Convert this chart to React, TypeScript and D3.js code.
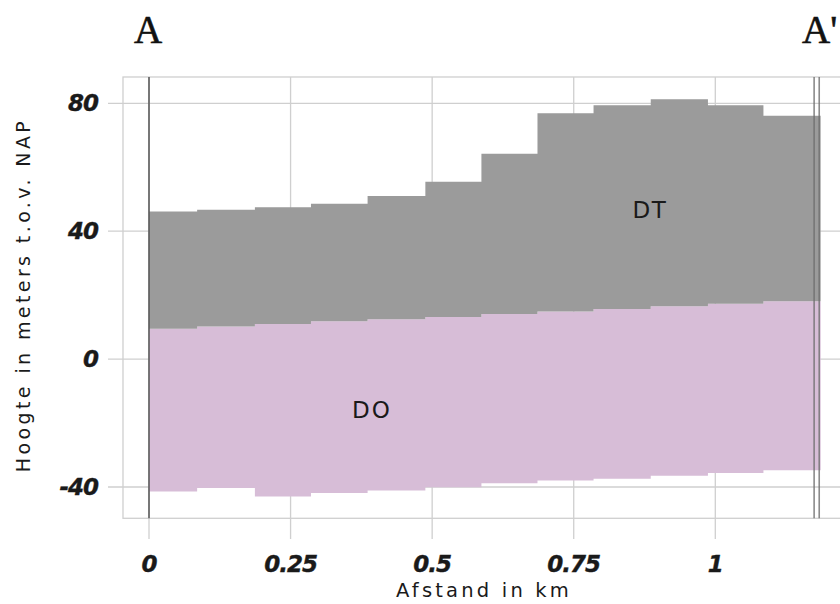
import * as d3 from "d3";

// cross-section A - A': layer boundaries per 100 m cell
const distKm = [0, 0.085, 0.187, 0.286, 0.386, 0.488, 0.587, 0.686, 0.785, 0.886, 0.987, 1.085, 1.186];
const dtTop = [46.2, 46.7, 47.5, 48.6, 51.0, 55.5, 64.2, 76.9, 79.4, 81.3, 79.4, 76.1];
const doTop = [9.5, 10.2, 11.0, 11.8, 12.5, 13.2, 14.1, 14.9, 15.7, 16.5, 17.3, 18.1];
const doBottom = [-41.4, -40.3, -43.0, -41.9, -41.1, -40.1, -38.8, -38.0, -37.4, -36.5, -35.6, -34.8];

const xTicks = [0, 0.25, 0.5, 0.75, 1];
const xTickLabels = ["0", "0.25", "0.5", "0.75", "1"];
const yTicks = [80, 40, 0, -40];
const yTickLabels = ["80", "40", "0", "-40"];
const endMarkers = [1.1745, 1.1835];

const W = 840;
const H = 604;

type Pt = { x: number; lo: number; hi: number };

export default function App() {
  const x = d3.scaleLinear().domain([0, 1]).range([149, 715.3]);
  const y = d3.scaleLinear().domain([-40, 80]).range([487, 103.3]);

  const frame = { left: 123, top: 77, bottom: 518.3 };

  // step points: the last value is held to the closing boundary
  const toPts = (lo: number[], hi: number[]): Pt[] =>
    distKm.map((d, i) => {
      const j = Math.min(i, lo.length - 1);
      return { x: d, lo: lo[j], hi: hi[j] };
    });

  const area = d3
    .area<Pt>()
    .x((d) => x(d.x))
    .y0((d) => y(d.lo))
    .y1((d) => y(d.hi))
    .curve(d3.curveStepAfter);

  const grid = "#cfcfcf";
  const sans = "'DejaVu Sans', Verdana, sans-serif";
  const serif = "'Liberation Serif', 'DejaVu Serif', serif";

  return (
    <div style={{ position: "absolute", left: 0, top: 0 }}>
      <svg width={W} height={H} style={{ display: "block", background: "#fff" }}>
        {/* frame */}
        <rect
          x={frame.left}
          y={frame.top}
          width={W - frame.left + 20}
          height={frame.bottom - frame.top}
          fill="none"
          stroke={grid}
          strokeWidth={1.3}
        />

        {/* horizontal grid + ticks */}
        {yTicks.map((t) => (
          <line key={t} x1={108} x2={W} y1={y(t)} y2={y(t)} stroke={grid} strokeWidth={1.3} />
        ))}

        {/* vertical grid + ticks */}
        {xTicks.map((t) => (
          <line key={t} x1={x(t)} x2={x(t)} y1={frame.top} y2={539} stroke={grid} strokeWidth={1.3} />
        ))}

        {/* layers */}
        <path d={area(toPts(doBottom, doTop)) ?? ""} fill="#d7bdd7" />
        <path d={area(toPts(doTop, dtTop)) ?? ""} fill="#9b9b9b" />

        {/* section start and end lines */}
        <line x1={x(0)} x2={x(0)} y1={frame.top} y2={frame.bottom} stroke="#555" strokeWidth={1.5} />
        {endMarkers.map((m) => (
          <line
            key={m}
            x1={x(m)}
            x2={x(m)}
            y1={frame.top}
            y2={frame.bottom}
            stroke="#6e6e6e"
            strokeOpacity={0.8}
            strokeWidth={1.6}
          />
        ))}

        {/* layer labels */}
        <text x={650} y={210} fontFamily={sans} fontSize={23} letterSpacing={1.5} textAnchor="middle" dominantBaseline="central" fill="#1a1a1a">
          DT
        </text>
        <text x={372} y={410} fontFamily={sans} fontSize={23} letterSpacing={2} textAnchor="middle" dominantBaseline="central" fill="#1a1a1a">
          DO
        </text>

        {/* y tick labels */}
        {yTicks.map((t, i) => (
          <text
            key={t}
            x={98}
            y={y(t)}
            textAnchor="end"
            dominantBaseline="central"
            fontFamily={sans}
            fontWeight="bold"
            fontStyle="italic"
            fontSize={23}
            letterSpacing={-1}
            fill="#1a1a1a"
            stroke="#1a1a1a"
            strokeWidth={0.4}
          >
            {yTickLabels[i]}
          </text>
        ))}

        {/* x tick labels */}
        {xTicks.map((t, i) => (
          <text
            key={t}
            x={x(t)}
            y={563.5}
            textAnchor="middle"
            dominantBaseline="central"
            fontFamily={sans}
            fontWeight="bold"
            fontStyle="italic"
            fontSize={23}
            letterSpacing={-1}
            fill="#1a1a1a"
            stroke="#1a1a1a"
            strokeWidth={0.4}
          >
            {xTickLabels[i]}
          </text>
        ))}

        {/* axis titles */}
        <text x={484} y={597} textAnchor="middle" fontFamily={sans} fontSize={19.5} letterSpacing={3.2} fill="#1a1a1a">
          Afstand in km
        </text>
        <text
          transform="translate(30,295) rotate(-90)"
          textAnchor="middle"
          fontFamily={sans}
          fontSize={19}
          letterSpacing={3.4}
          fill="#1a1a1a"
        >
          Hoogte in meters t.o.v. NAP
        </text>

        {/* section ends */}
        <text x={148} y={43} textAnchor="middle" fontFamily={serif} fontSize={39} fill="#111" stroke="#111" strokeWidth={0.6}>
          A
        </text>
        <text x={802} y={43} textAnchor="start" fontFamily={serif} fontSize={39} fill="#111" stroke="#111" strokeWidth={0.6}>
          A'
        </text>
      </svg>
    </div>
  );
}
